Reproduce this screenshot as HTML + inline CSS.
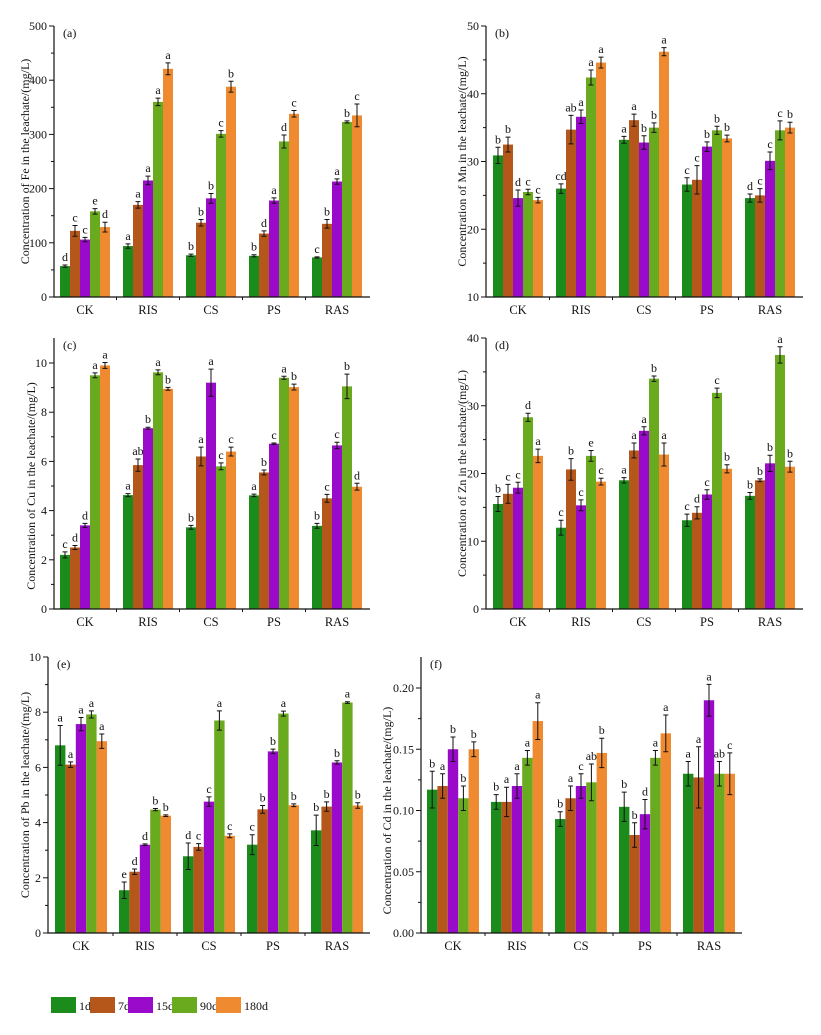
<!DOCTYPE html>
<html><head><meta charset="utf-8">
<style>
html,body{margin:0;padding:0;background:#fff;}
svg{display:block;font-family:"Liberation Serif",serif;}
</style></head>
<body>
<svg id="chart" width="821" height="1035" viewBox="0 0 821 1035" xmlns="http://www.w3.org/2000/svg"></svg>
<script>
const categories = ["CK","RIS","CS","PS","RAS"];
const seriesNames = ["1d","7d","15d","90d","180d"];
const seriesColors = ["#1b8c1b","#b5561a","#9a0acb","#6aaa1e","#f08a30"];

const feValues = [[57,122,106,158,129],[94,170,215,360,421],[77,137,182,301,388],[76,117,178,287,338],[73,135,213,323,335]];
const feErrors = [[2,10,4,5,9],[4,6,8,7,11],[2,6,9,6,10],[2,5,5,12,6],[1,8,5,2,21]];
const feLetters = [["d","c","c","e","d"],["a","a","a","a","a"],["b","b","b","c","b"],["b","d","a","d","c"],["c","b","a","b","c"]];
const feTicks = [0,100,200,300,400,500];

const mnValues = [[30.9,32.5,24.6,25.5,24.3],[26,34.7,36.6,42.4,44.6],[33.2,36.1,32.8,35,46.2],[26.6,27.3,32.2,34.6,33.4],[24.6,25,30.1,34.6,35]];
const mnErrors = [[1.2,1.1,1.2,0.4,0.4],[0.7,2.1,1,1.1,0.8],[0.5,0.9,1,0.7,0.6],[1,2.1,0.7,0.6,0.5],[0.6,1,1.3,1.4,0.8]];
const mnLetters = [["b","b","d","c","c"],["cd","ab","a","a","a"],["a","a","b","b","a"],["c","c","b","b","b"],["d","c","c","c","b"]];
const mnTicks = [10,20,30,40,50];

const cuValues = [[2.2,2.5,3.4,9.5,9.9],[4.63,5.85,7.35,9.62,8.95],[3.32,6.2,9.2,5.8,6.4],[4.62,5.55,6.72,9.4,9.02],[3.38,4.5,6.65,9.05,4.97]];
const cuErrors = [[0.12,0.08,0.08,0.1,0.12],[0.06,0.25,0.04,0.1,0.06],[0.08,0.38,0.55,0.14,0.18],[0.05,0.1,0.03,0.06,0.12],[0.1,0.16,0.13,0.5,0.14]];
const cuLetters = [["c","d","d","a","a"],["a","ab","b","a","b"],["b","a","a","c","c"],["a","b","c","a","b"],["b","c","c","b","d"]];
const cuTicks = [0,2,4,6,8,10];

const znValues = [[15.5,17,17.9,28.3,22.6],[12,20.6,15.3,22.6,18.8],[19,23.4,26.3,34,22.8],[13.1,14.2,16.9,31.9,20.7],[16.7,19,21.5,37.5,21]];
const znErrors = [[1.1,1.4,0.8,0.6,1],[1.1,1.6,0.8,0.8,0.5],[0.4,1.1,0.6,0.4,1.7],[0.9,0.9,0.7,0.7,0.6],[0.5,0.2,1.2,1.2,0.8]];
const znLetters = [["b","c","c","d","a"],["c","b","c","e","c"],["a","a","a","b","a"],["c","d","c","c","b"],["b","b","b","a","b"]];
const znTicks = [0,10,20,30,40];

const pbValues = [[6.8,6.1,7.57,7.92,6.95],[1.55,2.22,3.2,4.47,4.25],[2.78,3.12,4.76,7.7,3.52],[3.2,4.48,6.58,7.95,4.63],[3.72,4.58,6.18,8.35,4.62]];
const pbErrors = [[0.72,0.1,0.24,0.13,0.26],[0.3,0.1,0.03,0.04,0.03],[0.48,0.12,0.17,0.35,0.07],[0.36,0.14,0.08,0.09,0.05],[0.55,0.17,0.06,0.03,0.1]];
const pbLetters = [["a","a","a","a","a"],["e","d","d","b","b"],["d","c","c","a","c"],["c","b","b","a","b"],["b","b","b","a","b"]];
const pbTicks = [0,2,4,6,8,10];

const cdValues = [[0.117,0.12,0.15,0.11,0.15],[0.107,0.107,0.12,0.143,0.173],[0.093,0.11,0.12,0.123,0.147],[0.103,0.08,0.097,0.143,0.163],[0.13,0.127,0.19,0.13,0.13]];
const cdErrors = [[0.015,0.01,0.01,0.01,0.006],[0.006,0.012,0.01,0.006,0.015],[0.006,0.01,0.01,0.015,0.012],[0.012,0.01,0.012,0.006,0.015],[0.01,0.025,0.013,0.01,0.017]];
const cdLetters = [["b","a","b","b","b"],["b","a","a","a","a"],["b","a","c","ab","b"],["b","b","d","a","a"],["a","a","a","ab","c"]];
const cdTicks = [0,0.05,0.10,0.15,0.20];

const svg = document.getElementById('chart');
const NS = "http://www.w3.org/2000/svg";
function mk(tag, attrs, parent){ const e=document.createElementNS(NS,tag); for(const k in attrs) e.setAttribute(k,attrs[k]); (parent||svg).appendChild(e); return e; }

function drawPanel(p){
  const g = mk('g',{});
  
  
  const ymin=p.ticks[0], ymax=p.ticks[p.ticks.length-1];
  const yS = v => p.y0 - (v-ymin)/(ymax-ymin)*(p.y0-p.yTop);
  // bars
  for(let c=0;c<categories.length;c++){
    const gx = p.barStart + c*p.spacing;
    for(let s=0;s<seriesNames.length;s++){
      const v=p.values[c][s], e=p.errors[c][s];
      const x = gx + s*p.bw;
      const r = mk('rect',{x:x,y:yS(v),width:p.bw,height:p.y0-yS(v),fill:seriesColors[s]},g);
      
      
      const cx = x+p.bw/2, t=yS(v+e), b=yS(v-e);
      const eb = mk('path',{d:`M${cx},${t}V${b}M${cx-2.5},${t}H${cx+2.5}M${cx-2.5},${b}H${cx+2.5}`,stroke:'#111','stroke-width':1,fill:'none'},g);
      
      
      const lt = mk('text',{x:cx,y:t-4,'text-anchor':'middle','font-size':12,fill:'#111'},g);
      lt.textContent = p.letters[c][s];
      
      
    }
    const cl = mk('text',{x:gx+p.bw*2.5,y:p.y0+17,'text-anchor':'middle','font-size':12.5,fill:'#111'},g);
    cl.textContent = categories[c];
    
    
    if(c>0){ const tx=gx-(p.spacing-5*p.bw)/2; mk('line',{x1:tx,x2:tx,y1:p.y0,y2:p.y0+3,stroke:'#111'},g); }
  }
  // axes
  const ax = mk('path',{d:`M${p.ax},${p.axTop}V${p.y0}H${p.right}`,stroke:'#111','stroke-width':1.2,fill:'none'},g);
  
  
  for(let i=0;i<p.ticks.length;i++){
    const v=p.ticks[i], y=yS(v);
    mk('line',{x1:p.ax-5,x2:p.ax,y1:y,y2:y,stroke:'#111'},g);
    if(i<p.ticks.length-1){ const ym=yS((v+p.ticks[i+1])/2); mk('line',{x1:p.ax-3,x2:p.ax,y1:ym,y2:ym,stroke:'#111'},g); }
    const tl = mk('text',{x:p.ax-7,y:y+4,'text-anchor':'end','font-size':12,fill:'#111'},g);
    tl.textContent = p.fmt(v);
    
    
  }
  const ty=(p.yTop+p.y0)/2;
  const tt = mk('text',{x:p.titleX,y:ty,'text-anchor':'middle','font-size':12,fill:'#111',transform:`rotate(-90 ${p.titleX} ${ty})`},g);
  tt.textContent = `Concentration of ${p.el} in the leachate/(mg/L)`;
  
  
  const pl = mk('text',{x:p.ax+9,y:p.axTop+11,'font-size':12,fill:'#111'},g);
  pl.textContent = `(${p.key})`;
  
  
}
const f0 = v=>String(v), f2 = v=>v.toFixed(2);
drawPanel({key:'a',el:'Fe',values:feValues,errors:feErrors,letters:feLetters,ticks:feTicks,fmt:f0,ax:54,y0:297,yTop:26,axTop:26,right:370,barStart:60,spacing:63,bw:10,titleX:29});
drawPanel({key:'b',el:'Mn',values:mnValues,errors:mnErrors,letters:mnLetters,ticks:mnTicks,fmt:f0,ax:486,y0:297,yTop:26,axTop:26,right:803,barStart:493,spacing:63,bw:10,titleX:466});
drawPanel({key:'c',el:'Cu',values:cuValues,errors:cuErrors,letters:cuLetters,ticks:cuTicks,fmt:f0,ax:54,y0:609,yTop:363,axTop:338,right:370,barStart:60,spacing:63,bw:10,titleX:35});
drawPanel({key:'d',el:'Zn',values:znValues,errors:znErrors,letters:znLetters,ticks:znTicks,fmt:f0,ax:486,y0:609,yTop:338,axTop:338,right:803,barStart:493,spacing:63,bw:10,titleX:466});
drawPanel({key:'e',el:'Pb',values:pbValues,errors:pbErrors,letters:pbLetters,ticks:pbTicks,fmt:f0,ax:48,y0:933,yTop:657,axTop:657,right:370,barStart:55,spacing:64,bw:10.4,titleX:29});
drawPanel({key:'f',el:'Cd',values:cdValues,errors:cdErrors,letters:cdLetters,ticks:cdTicks,fmt:f2,ax:421,y0:933,yTop:688,axTop:657,right:742,barStart:427,spacing:64,bw:10.4,titleX:391});

// legend
const legendX = [51,90,128,172,216];
const lg = mk('g',{});


for(let s=0;s<seriesNames.length;s++){
  const r = mk('rect',{x:legendX[s],y:997,width:25,height:16,fill:seriesColors[s]},lg);
  
  
  const t = mk('text',{x:legendX[s]+28,y:1010,'font-size':12,fill:'#111'},lg);
  t.textContent = seriesNames[s];
  
  
}
</script>
</body></html>
